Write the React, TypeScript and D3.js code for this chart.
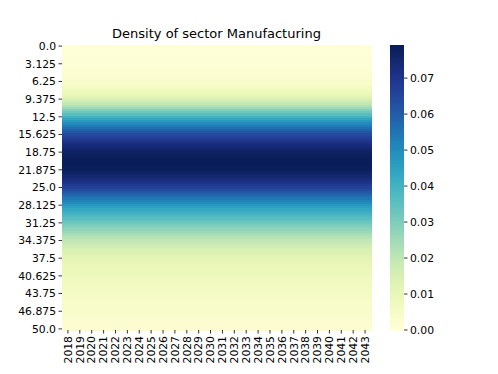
import React from 'react';
import * as d3 from 'd3';

// --- data ---
const years = d3.range(2018, 2044).map(String);

// row positions 0 .. 50 (129 rows), tick labels every 8th row
const rowValues = d3.range(129).map(i => (i * 50) / 128);
const yTickLabels = ['0.0', '3.125', '6.25', '9.375', '12.5', '15.625', '18.75', '21.875', '25.0',
  '28.125', '31.25', '34.375', '37.5', '40.625', '43.75', '46.875', '50.0'];

// density per row (same profile each year)
const density = [
  0.0005, 0.0005, 0.0006, 0.0006, 0.0007, 0.0008, 0.0009, 0.0010, 0.0011, 0.0013,
  0.0015, 0.0017, 0.0020, 0.0023, 0.0026, 0.0029, 0.0035, 0.0043, 0.0051, 0.0063,
  0.0074, 0.0088, 0.0104, 0.0120, 0.0142, 0.0166, 0.0193, 0.0224, 0.0255, 0.0290,
  0.0325, 0.0361, 0.0400, 0.0439, 0.0472, 0.0503, 0.0535, 0.0562, 0.0589, 0.0614,
  0.0637, 0.0661, 0.0681, 0.0700, 0.0718, 0.0733, 0.0749, 0.0761, 0.0772, 0.0780,
  0.0785, 0.0789, 0.0791, 0.0792, 0.0791, 0.0788, 0.0782, 0.0774, 0.0763, 0.0750,
  0.0736, 0.0720, 0.0702, 0.0683, 0.0662, 0.0640, 0.0617, 0.0593, 0.0569, 0.0545,
  0.0522, 0.0498, 0.0475, 0.0455, 0.0435, 0.0416, 0.0396, 0.0377, 0.0358, 0.0340,
  0.0323, 0.0306, 0.0290, 0.0274, 0.0258, 0.0243, 0.0228, 0.0214, 0.0200, 0.0187,
  0.0175, 0.0163, 0.0152, 0.0143, 0.0135, 0.0127, 0.0120, 0.0113, 0.0108, 0.0103,
  0.0099, 0.0095, 0.0091, 0.0087, 0.0083, 0.0079, 0.0075, 0.0071, 0.0068, 0.0064,
  0.0061, 0.0057, 0.0054, 0.0051, 0.0048, 0.0046, 0.0043, 0.0041, 0.0039, 0.0037,
  0.0035, 0.0033, 0.0031, 0.0029, 0.0028, 0.0026, 0.0025, 0.0024, 0.0022,
];

const cbarTicks = [0, 0.01, 0.02, 0.03, 0.04, 0.05, 0.06, 0.07];

const W = 498, H = 374;
const font = 'DejaVu Sans, sans-serif';

export default function App() {
  const left = 62, right = 371, top = 45, bottom = 330;
  const x = d3.scaleBand().domain(years).range([left, right]);
  const y = d3.scaleBand().domain(d3.range(rowValues.length).map(String)).range([top, bottom]);
  const vmax = d3.max(density) as number;
  const color = d3.scaleSequential(d3.interpolateYlGnBu).domain([0, vmax]);

  const cbX = 390, cbW = 14;
  const cbY = d3.scaleLinear().domain([0, vmax]).range([bottom, top]);
  const cbSteps = d3.range(200).map(i => (i / 200) * vmax);
  const stepH = (bottom - top) / 200;

  return (
    <>
      <style>{`body{margin:0}`}</style>
      <svg width={W} height={H} style={{ display: 'block', background: '#fff' }} fontFamily={font}>
        <text x={(left + right) / 2} y={38} textAnchor="middle" fontSize={13}>Density of sector Manufacturing</text>

        {/* heatmap cells */}
        <g shapeRendering="crispEdges">
          {years.map(yr =>
            density.map((d, i) => (
              <rect key={yr + '-' + i} x={x(yr)} y={y(String(i))} width={x.bandwidth() + 0.5}
                height={y.bandwidth() + 0.5} fill={color(d)} />
            ))
          )}
        </g>

        {/* y ticks */}
        {yTickLabels.map((lab, k) => {
          const yy = (y(String(k * 8)) as number) + y.bandwidth() / 2;
          return (
            <g key={lab}>
              <line x1={left - 3.5} x2={left} y1={yy} y2={yy} stroke="#000" strokeWidth={0.8} />
              <text x={left - 6} y={yy} dy="0.35em" textAnchor="end" fontSize={10.8}>{lab}</text>
            </g>
          );
        })}

        {/* x ticks */}
        {years.map(yr => {
          const xx = (x(yr) as number) + x.bandwidth() / 2;
          return (
            <g key={yr}>
              <line x1={xx} x2={xx} y1={bottom} y2={bottom + 3.5} stroke="#000" strokeWidth={0.8} />
              <text transform={`translate(${xx},${bottom + 6}) rotate(-90)`} dy="0.35em" textAnchor="end" fontSize={10.8}>{yr}</text>
            </g>
          );
        })}

        {/* colorbar */}
        <g shapeRendering="crispEdges">
          {cbSteps.map((v, i) => (
            <rect key={i} x={cbX} y={bottom - (i + 1) * stepH} width={cbW} height={stepH + 0.5} fill={color(v + vmax / 400)} />
          ))}
        </g>
        {cbarTicks.map(t => (
          <g key={t}>
            <line x1={cbX + cbW} x2={cbX + cbW + 3.5} y1={cbY(t)} y2={cbY(t)} stroke="#000" strokeWidth={0.8} />
            <text x={cbX + cbW + 6} y={cbY(t)} dy="0.35em" fontSize={10.8}>{t.toFixed(2)}</text>
          </g>
        ))}
      </svg>
    </>
  );
}
